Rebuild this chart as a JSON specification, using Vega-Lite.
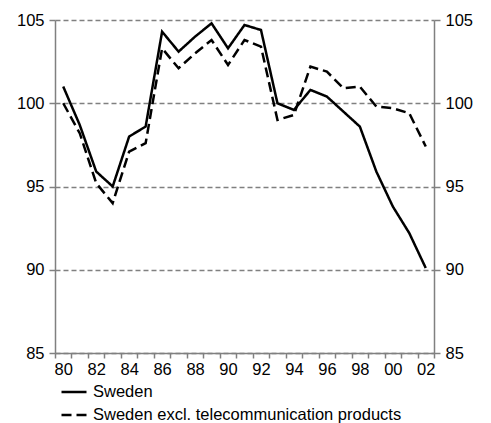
{
  "$schema": "https://vega.github.io/schema/vega-lite/v6.json",
  "width": 379,
  "height": 333,
  "autosize": {"type": "none"},
  "padding": {"left": 55, "top": 20, "right": 57, "bottom": 70},
  "background": "white",
  "config": {
    "view": {"stroke": null},
    "font": "Liberation Sans",
    "axis": {"labelFont": "Liberation Sans", "labelFontSize": 16.5, "labelColor": "#000000", "domainColor": "#808080", "tickColor": "#808080", "domainWidth": 1.5, "tickWidth": 1.5}
  },
  "data": {
    "values": [
      {"year": "80", "series": "Sweden", "value": 101.0},
      {"year": "81", "series": "Sweden", "value": 98.7},
      {"year": "82", "series": "Sweden", "value": 95.9},
      {"year": "83", "series": "Sweden", "value": 95.0},
      {"year": "84", "series": "Sweden", "value": 98.0},
      {"year": "85", "series": "Sweden", "value": 98.6},
      {"year": "86", "series": "Sweden", "value": 104.3},
      {"year": "87", "series": "Sweden", "value": 103.1},
      {"year": "88", "series": "Sweden", "value": 104.0},
      {"year": "89", "series": "Sweden", "value": 104.8},
      {"year": "90", "series": "Sweden", "value": 103.3},
      {"year": "91", "series": "Sweden", "value": 104.7},
      {"year": "92", "series": "Sweden", "value": 104.4},
      {"year": "93", "series": "Sweden", "value": 100.0},
      {"year": "94", "series": "Sweden", "value": 99.6},
      {"year": "95", "series": "Sweden", "value": 100.8},
      {"year": "96", "series": "Sweden", "value": 100.4},
      {"year": "97", "series": "Sweden", "value": 99.5},
      {"year": "98", "series": "Sweden", "value": 98.6},
      {"year": "99", "series": "Sweden", "value": 95.9},
      {"year": "00", "series": "Sweden", "value": 93.8},
      {"year": "01", "series": "Sweden", "value": 92.2},
      {"year": "02", "series": "Sweden", "value": 90.1},
      {"year": "80", "series": "Sweden excl. telecommunication products", "value": 100.0},
      {"year": "81", "series": "Sweden excl. telecommunication products", "value": 98.2},
      {"year": "82", "series": "Sweden excl. telecommunication products", "value": 95.2},
      {"year": "83", "series": "Sweden excl. telecommunication products", "value": 94.0},
      {"year": "84", "series": "Sweden excl. telecommunication products", "value": 97.1},
      {"year": "85", "series": "Sweden excl. telecommunication products", "value": 97.6},
      {"year": "86", "series": "Sweden excl. telecommunication products", "value": 103.3},
      {"year": "87", "series": "Sweden excl. telecommunication products", "value": 102.1},
      {"year": "88", "series": "Sweden excl. telecommunication products", "value": 103.0},
      {"year": "89", "series": "Sweden excl. telecommunication products", "value": 103.8},
      {"year": "90", "series": "Sweden excl. telecommunication products", "value": 102.3},
      {"year": "91", "series": "Sweden excl. telecommunication products", "value": 103.8},
      {"year": "92", "series": "Sweden excl. telecommunication products", "value": 103.4},
      {"year": "93", "series": "Sweden excl. telecommunication products", "value": 99.0},
      {"year": "94", "series": "Sweden excl. telecommunication products", "value": 99.3},
      {"year": "95", "series": "Sweden excl. telecommunication products", "value": 102.2},
      {"year": "96", "series": "Sweden excl. telecommunication products", "value": 101.9},
      {"year": "97", "series": "Sweden excl. telecommunication products", "value": 100.9},
      {"year": "98", "series": "Sweden excl. telecommunication products", "value": 101.0},
      {"year": "99", "series": "Sweden excl. telecommunication products", "value": 99.8},
      {"year": "00", "series": "Sweden excl. telecommunication products", "value": 99.7},
      {"year": "01", "series": "Sweden excl. telecommunication products", "value": 99.4},
      {"year": "02", "series": "Sweden excl. telecommunication products", "value": 97.4}
    ]
  },
  "encoding": {
    "x": {
      "field": "year",
      "type": "ordinal",
      "scale": {"domain": ["80","81","82","83","84","85","86","87","88","89","90","91","92","93","94","95","96","97","98","99","00","01","02"], "paddingInner": 0, "paddingOuter": 0},
      "axis": {"title": null, "labelAngle": 0, "ticks": true, "tickBand": "extent", "tickSize": 5, "labelPadding": 3, "grid": false,
        "labelExpr": "indexof(['80','82','84','86','88','90','92','94','96','98','00','02'], datum.value) >= 0 ? datum.label : ''"}
    }
  },
  "layer": [
    {
      "mark": {"type": "line", "color": "black", "strokeWidth": 2.5},
      "encoding": {
        "y": {
          "field": "value", "type": "quantitative",
          "scale": {"domain": [85, 105], "nice": false, "zero": false},
          "axis": {"title": null, "orient": "left", "values": [85, 90, 95, 100, 105], "tickSize": 6, "labelPadding": 5,
            "grid": true, "gridColor": "#808080", "gridDash": [5, 3], "gridWidth": 1.5}
        },
        "strokeDash": {
          "field": "series", "type": "nominal",
          "scale": {"domain": ["Sweden", "Sweden excl. telecommunication products"], "range": [[1, 0], [10, 5]]},
          "legend": {"title": null, "orient": "none", "legendX": 5, "legendY": 358, "symbolType": "stroke", "symbolSize": 625,
            "symbolStrokeWidth": 2.5, "symbolStrokeColor": "black", "labelFontSize": 16.5, "labelFont": "Liberation Sans",
            "labelColor": "black", "labelOffset": 5, "rowPadding": -8, "padding": 0, "labelLimit": 420}
        }
      }
    },
    {
      "mark": {"type": "line", "opacity": 0},
      "encoding": {
        "y": {
          "field": "value", "type": "quantitative",
          "scale": {"domain": [85, 105], "nice": false, "zero": false},
          "axis": {"title": null, "orient": "right", "values": [85, 90, 95, 100, 105], "tickSize": 6, "labelPadding": 5, "grid": false}
        },
        "detail": {"field": "series"}
      }
    }
  ],
  "resolve": {"scale": {"y": "independent"}}
}
